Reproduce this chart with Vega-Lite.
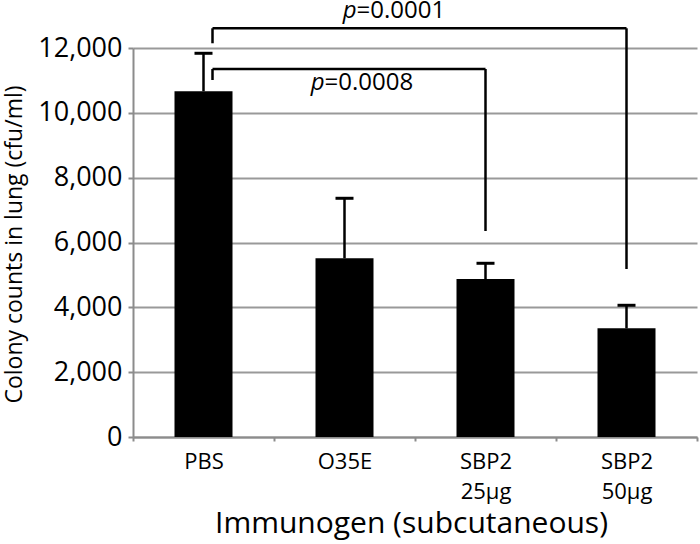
{
  "$schema": "https://vega.github.io/schema/vega-lite/v6.json",
  "width": 564,
  "height": 389,
  "autosize": {"type": "none"},
  "padding": {"left": 133, "top": 48, "right": 3, "bottom": 107},
  "background": "white",
  "config": {
    "view": {"stroke": null},
    "font": "Open Sans",
    "axis": {"labelColor": "black", "titleColor": "black", "titleFontWeight": "normal", "labelFont": "Open Sans", "titleFont": "Open Sans"},
    "axisX": {
      "titleFontSize": 30,
      "titleX": 278,
      "titleY": 95,
      "titleBaseline": "alphabetic",
      "titleAlign": "center",
      "labelAngle": 0,
      "labelFontSize": 22,
      "labelLineHeight": 30,
      "labelPadding": 10,
      "labelBaseline": "top",
      "tickBand": "extent",
      "tickSize": 4,
      "tickColor": "#8c8c8c",
      "tickWidth": 2,
      "domainColor": "#8c8c8c",
      "domainWidth": 2,
      "grid": false
    },
    "axisY": {
      "titleFontSize": 23,
      "titleAngle": 270,
      "titleX": -119,
      "titleY": 196,
      "titleAlign": "center",
      "titleBaseline": "middle",
      "labelFontSize": 27,
      "labelPadding": 6,
      "tickSize": 5,
      "tickColor": "#8c8c8c",
      "tickWidth": 2,
      "domainColor": "#8c8c8c",
      "domainWidth": 2,
      "grid": true,
      "gridColor": "#999999",
      "gridWidth": 2
    }
  },
  "datasets": {
    "bars": [
      {"cat": "PBS", "value": 10665, "upper": 11837},
      {"cat": "O35E", "value": 5513, "upper": 7364},
      {"cat": "SBP2 25µg", "value": 4874, "upper": 5359},
      {"cat": "SBP2 50µg", "value": 3353, "upper": 4063}
    ],
    "brackets": [
      {"from": "PBS", "to": "SBP2 25µg", "y": 11353, "yLeft": 11013, "yRight": 6355},
      {"from": "PBS", "to": "SBP2 50µg", "y": 12608, "yLeft": 12146, "yRight": 5183}
    ],
    "labels": [
      {"id": "lower", "x": "O35E", "y": 10700, "p": "p", "text": "=0.0008"},
      {"id": "upper", "x": "O35E", "y": 12920, "p": "p", "text": "=0.0001"}
    ]
  },
  "layer": [
    {
      "data": {"name": "bars"},
      "mark": {"type": "bar", "size": 58, "color": "black"},
      "encoding": {
        "x": {
          "field": "cat", "type": "nominal", "sort": null,
          "scale": {"domain": ["PBS", "O35E", "SBP2 25µg", "SBP2 50µg"], "paddingInner": 0, "paddingOuter": 0},
          "axis": {
            "title": "Immunogen (subcutaneous)",
            "labelExpr": "isValid(datum.value) ? split(datum.value, ' ') : ''"
          }
        },
        "y": {
          "field": "value", "type": "quantitative",
          "scale": {"domain": [0, 12000], "nice": false},
          "axis": {
            "title": "Colony counts in lung (cfu/ml)",
            "values": [0, 2000, 4000, 6000, 8000, 10000, 12000],
            "labelExpr": "format(datum.value, ',')"
          }
        }
      }
    },
    {
      "data": {"name": "bars"},
      "mark": {"type": "rule", "color": "black", "strokeWidth": 2.5},
      "encoding": {
        "x": {"field": "cat", "type": "nominal", "sort": null},
        "y": {"field": "value", "type": "quantitative"},
        "y2": {"field": "upper"}
      }
    },
    {
      "data": {"name": "bars"},
      "mark": {"type": "tick", "color": "black", "size": 18, "thickness": 3, "opacity": 1},
      "encoding": {
        "x": {"field": "cat", "type": "nominal", "sort": null},
        "y": {"field": "upper", "type": "quantitative"}
      }
    },
    {
      "data": {"name": "brackets"},
      "mark": {"type": "rule", "color": "black", "strokeWidth": 2.5, "xOffset": 9, "x2Offset": 0},
      "encoding": {
        "x": {"field": "from", "type": "nominal"},
        "x2": {"field": "to"},
        "y": {"field": "y", "type": "quantitative"}
      }
    },
    {
      "data": {"name": "brackets"},
      "mark": {"type": "rule", "color": "black", "strokeWidth": 2.5, "xOffset": 9},
      "encoding": {
        "x": {"field": "from", "type": "nominal"},
        "y": {"field": "y", "type": "quantitative"},
        "y2": {"field": "yLeft"}
      }
    },
    {
      "data": {"name": "brackets"},
      "mark": {"type": "rule", "color": "black", "strokeWidth": 2.5},
      "encoding": {
        "x": {"field": "to", "type": "nominal"},
        "y": {"field": "y", "type": "quantitative"},
        "y2": {"field": "yRight"}
      }
    },
    {
      "data": {"name": "labels"},
      "transform": [{"filter": "datum.id == 'lower'"}],
      "mark": {"type": "text", "fontSize": 24, "align": "left", "baseline": "alphabetic", "xOffset": -20, "color": "black"},
      "encoding": {
        "x": {"field": "x", "type": "nominal"},
        "y": {"field": "y", "type": "quantitative"},
        "text": {"field": "text"}
      }
    },
    {
      "data": {"name": "labels"},
      "transform": [{"filter": "datum.id == 'lower'"}],
      "mark": {"type": "text", "fontSize": 24, "fontStyle": "italic", "align": "right", "baseline": "alphabetic", "xOffset": -20, "color": "black"},
      "encoding": {
        "x": {"field": "x", "type": "nominal"},
        "y": {"field": "y", "type": "quantitative"},
        "text": {"field": "p"}
      }
    },
    {
      "data": {"name": "labels"},
      "transform": [{"filter": "datum.id == 'upper'"}],
      "mark": {"type": "text", "fontSize": 24, "align": "left", "baseline": "alphabetic", "xOffset": 12, "color": "black"},
      "encoding": {
        "x": {"field": "x", "type": "nominal"},
        "y": {"field": "y", "type": "quantitative"},
        "text": {"field": "text"}
      }
    },
    {
      "data": {"name": "labels"},
      "transform": [{"filter": "datum.id == 'upper'"}],
      "mark": {"type": "text", "fontSize": 24, "fontStyle": "italic", "align": "right", "baseline": "alphabetic", "xOffset": 12, "color": "black"},
      "encoding": {
        "x": {"field": "x", "type": "nominal"},
        "y": {"field": "y", "type": "quantitative"},
        "text": {"field": "p"}
      }
    }
  ]
}
